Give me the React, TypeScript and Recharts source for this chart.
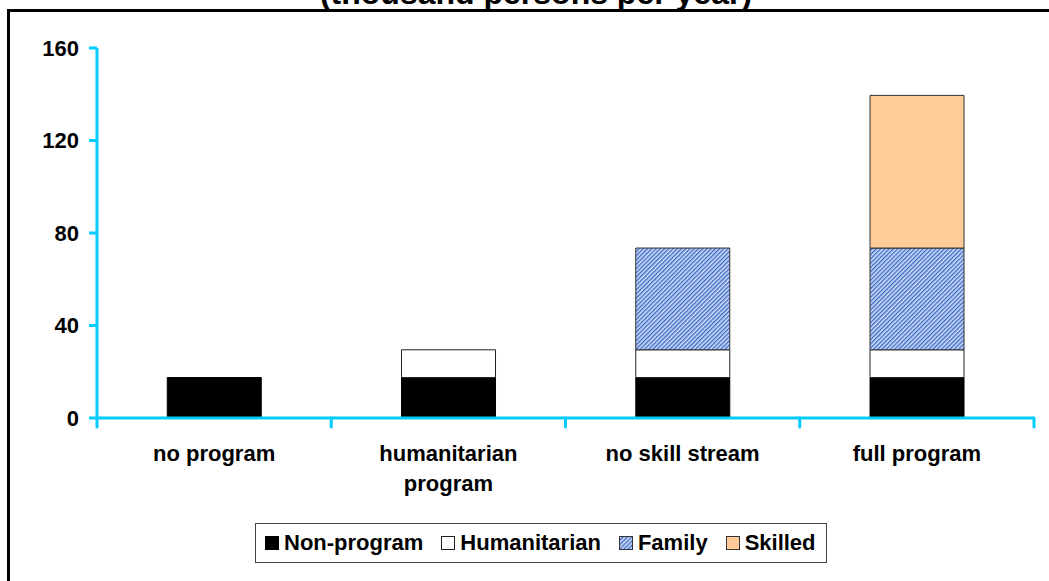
import React from 'react';
import { Bar, BarChart, Legend, XAxis, YAxis } from 'recharts';

const categories = ['no program', 'humanitarian program', 'no skill stream', 'full program'];
const categoryLines = [['no program'], ['humanitarian', 'program'], ['no skill stream'], ['full program']];
const nonProgram = [17.5, 17.5, 17.5, 17.5];
const humanitarian = [0, 12, 12, 12];
const family = [0, 0, 44, 44];
const skilled = [0, 0, 0, 66];
const yTicks = [0, 40, 80, 120, 160];

const data = categories.map((name, i) => ({
  name,
  nonProgram: nonProgram[i],
  humanitarian: humanitarian[i],
  family: family[i],
  skilled: skilled[i],
}));

const W = 1049;
const H = 581;
const PLOT_LEFT = 97;
const PLOT_RIGHT = 1034;
const PLOT_TOP = 48;
const PLOT_BOTTOM = 418;
const BAND = (PLOT_RIGHT - PLOT_LEFT) / categories.length;
const AXIS = '#00ccff';
const FONT = 'Arial, "Liberation Sans", sans-serif';

const series = [
  { key: 'nonProgram', name: 'Non-program', fill: '#000000', stroke: '#000000' },
  { key: 'humanitarian', name: 'Humanitarian', fill: '#ffffff', stroke: '#222222' },
  { key: 'family', name: 'Family', fill: 'url(#familyHatch)', stroke: '#333333' },
  { key: 'skilled', name: 'Skilled', fill: '#ffcc99', stroke: '#333333' },
];

// category label under each band, plus tick marks on the band edges
function CategoryTick(props: any) {
  const { x, y, index } = props;
  const lines = categoryLines[index] || [];
  const half = BAND / 2;
  const axisY = y;
  return (
    <g>
      <line x1={x - half} x2={x - half} y1={axisY} y2={axisY + 9} stroke={AXIS} strokeWidth={3} strokeLinecap="round" />
      {index === categories.length - 1 && (
        <line x1={x + half} x2={x + half} y1={axisY} y2={axisY + 9} stroke={AXIS} strokeWidth={3} strokeLinecap="round" />
      )}
      <text x={x} y={axisY + 43} textAnchor="middle" fontFamily={FONT} fontWeight="bold" fontSize={22} fill="#000">
        {lines.map((l, i) => (
          <tspan key={i} x={x} dy={i === 0 ? 0 : 30}>
            {l}
          </tspan>
        ))}
      </text>
    </g>
  );
}

function LegendBox() {
  return (
    <div
      style={{
        display: 'inline-flex',
        alignItems: 'center',
        height: 38,
        padding: '0 10px 0 9px',
        border: '1px solid #444',
        background: '#fff',
        fontFamily: FONT,
        fontWeight: 'bold',
        fontSize: 22,
        color: '#000',
        whiteSpace: 'nowrap',
      }}
    >
      {series.map((s, i) => (
        <span key={s.key} style={{ display: 'inline-flex', alignItems: 'center', marginRight: i < series.length - 1 ? 18 : 0 }}>
          <svg width={14} height={14} style={{ marginRight: 5 }}>
            <rect x={0.5} y={0.5} width={13} height={13} fill={s.fill} stroke={s.stroke} strokeWidth={1} />
          </svg>
          {s.name}
        </span>
      ))}
    </div>
  );
}

export default function App() {
  return (
    <div style={{ position: 'absolute', left: 0, top: 0, width: W, height: H, overflow: 'hidden', background: '#fff' }}>
      <div style={{ position: 'absolute', left: 7, top: 9, width: 1100, height: 700, border: '3px solid #000' }} />
      <svg width={W} height={30} style={{ position: 'absolute', left: 0, top: 0 }}>
        <text x={536} y={4} textAnchor="middle" fontFamily={FONT} fontWeight="bold" fontSize={32} fill="#000">
          (thousand persons per year)
        </text>
      </svg>
      <div style={{ position: 'absolute', left: 0, top: 0 }}>
        <BarChart
          width={W}
          height={H}
          data={data}
          margin={{ top: PLOT_TOP, right: W - PLOT_RIGHT, left: PLOT_LEFT - 60, bottom: H - PLOT_BOTTOM - 70 - 40 }}
          barCategoryGap="30%"
        >
          <defs>
            <pattern id="familyHatch" width={3} height={3} patternUnits="userSpaceOnUse" patternTransform="rotate(45)">
              <rect width={3} height={3} fill="#d3e0f7" />
              <rect width={1.4} height={3} fill="#3c6bc9" />
            </pattern>
          </defs>
          <XAxis
            dataKey="name"
            height={70}
            axisLine={{ stroke: AXIS, strokeWidth: 3 }}
            tickLine={false}
            tickSize={0}
            tickMargin={0}
            tick={<CategoryTick />}
            interval={0}
          />
          <YAxis
            width={60}
            domain={[0, 160]}
            ticks={yTicks}
            interval={0}
            axisLine={{ stroke: AXIS, strokeWidth: 3 }}
            tickLine={{ stroke: AXIS, strokeWidth: 3 }}
            tickSize={8}
            tickMargin={10}
            tick={{ fill: '#000', fontFamily: FONT, fontWeight: 'bold', fontSize: 22 }}
          />
          <Legend
            content={<LegendBox />}
            wrapperStyle={{ position: 'absolute', left: 255, top: 523, bottom: 'auto', width: 'auto' }}
          />
          {series.map((s) => (
            <Bar
              key={s.key}
              dataKey={s.key}
              name={s.name}
              stackId="total"
              fill={s.fill}
              stroke={s.stroke}
              strokeWidth={1}
              isAnimationActive={false}
            />
          ))}
        </BarChart>
      </div>
    </div>
  );
}
